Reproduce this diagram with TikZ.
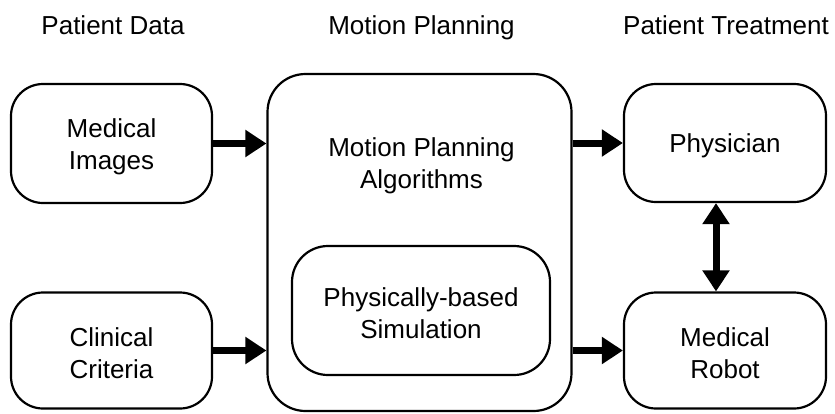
\documentclass[tikz,border=0pt]{standalone}
\usepackage{fontspec}
\setmainfont{Liberation Sans}
\usetikzlibrary{arrows.meta}
\newcommand{\tstr}{\rule{0pt}{25pt}}
\begin{document}
\begin{tikzpicture}[x=1pt,y=-1pt,
  every node/.style={font=\fontsize{26pt}{32pt}\selectfont, align=center},
  box/.style={draw, line width=2.2pt, rounded corners=32pt, inner sep=0pt},
  bigbox/.style={draw, line width=2.2pt, rounded corners=38pt, inner sep=0pt},
  head/.style={anchor=base, inner sep=0pt},
  arr/.style={line width=7pt, -{Triangle[length=21pt,width=26pt]}},
  darr/.style={line width=7pt, {Triangle[length=21pt,width=26pt]}-{Triangle[length=21pt,width=26pt]}}
]
\useasboundingbox (0,0) rectangle (835,413);
\node[head] (h1) at (113,34) {Patient Data};
\node[head] (h2) at (421.5,34) {Motion Planning};
\node[head] (h3) at (726,34) {Patient Treatment};

\node[box, minimum width=201pt, minimum height=119pt] (mi) at (111.5,143.5) {\tstr Medical\\Images};
\node[box, minimum width=201pt, minimum height=116pt] (cc) at (111.5,350.5) {\tstr Clinical\\Criteria};
\node[bigbox, minimum width=304pt, minimum height=337pt] (mp) at (419.5,242.5) {};
\node (mpt) at (421.5,166) {Motion Planning\\Algorithms};
\node[box, rounded corners=36pt, minimum width=258pt, minimum height=129pt] (sim) at (421,310.5) {\tstr Physically-based\\Simulation};
\node[box, minimum width=202pt, minimum height=118pt] (ph) at (725,143) {\tstr Physician};
\node[box, minimum width=202pt, minimum height=116pt] (mr) at (725,350.5) {\tstr Medical\\Robot};

\draw[arr] (mi.east) -- (mp.west |- mi.east);
\draw[arr] (cc.east) -- (mp.west |- cc.east);
\draw[arr] (mp.east |- ph.west) -- (ph.west);
\draw[arr] (mp.east |- mr.west) -- (mr.west);
\draw[darr] ([xshift=-9pt]ph.south) -- ([xshift=-9pt]mr.north);
\end{tikzpicture}
\end{document}
